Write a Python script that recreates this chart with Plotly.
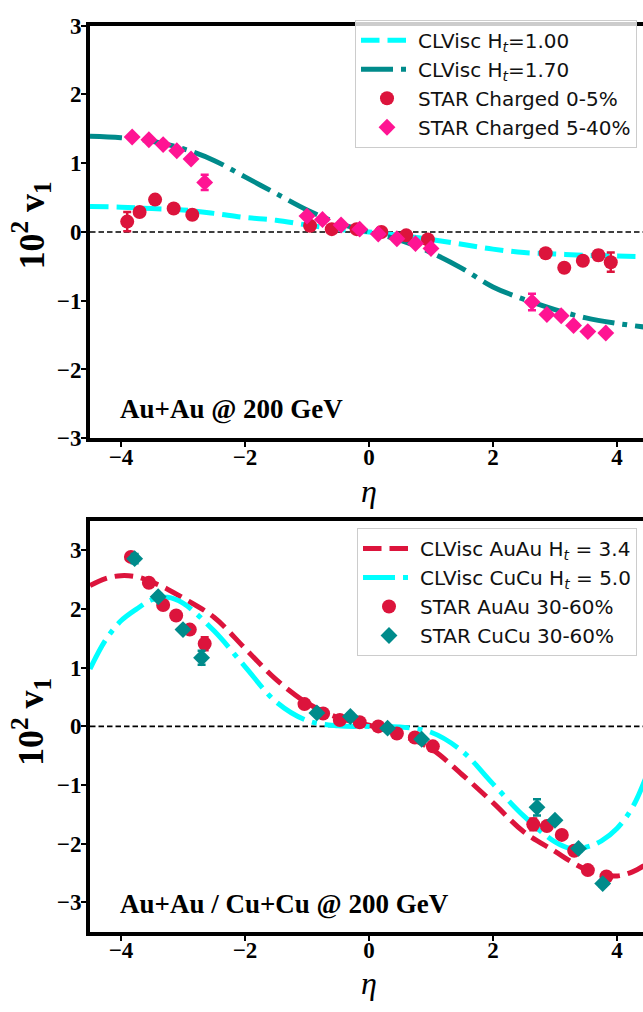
import plotly.graph_objects as go

# ---------------- data ----------------
# Top panel: Au+Au 200 GeV
eta_grid_top = [-4.5, -4.0, -3.5, -3.0, -2.5, -2.0, -1.5, -1.0, -0.5, 0.0,
                0.5, 1.0, 1.5, 2.0, 2.5, 3.0, 3.5, 4.0, 4.5]
v1_clvisc_ht100 = [0.37, 0.36, 0.34, 0.32, 0.27, 0.21, 0.17, 0.10, 0.04, 0.0,
                   -0.05, -0.11, -0.18, -0.25, -0.30, -0.32, -0.34, -0.35, -0.36]
v1_clvisc_ht170 = [1.39, 1.37, 1.32, 1.21, 1.04, 0.80, 0.56, 0.32, 0.13, 0.0,
                   -0.12, -0.30, -0.53, -0.80, -0.98, -1.13, -1.25, -1.33, -1.39]

eta_star_0_5 = [-3.9, -3.7, -3.45, -3.15, -2.85, -0.95, -0.6, -0.2, 0.2, 0.6, 0.95,
                2.85, 3.15, 3.45, 3.7, 3.9]
v1_star_0_5 = [0.15, 0.29, 0.47, 0.34, 0.25, 0.09, 0.04, 0.04, 0.0, -0.05, -0.11,
               -0.31, -0.52, -0.42, -0.34, -0.44]
err_star_0_5 = [0.14, 0.04, 0.04, 0.04, 0.04, 0.02, 0.02, 0.02, 0.02, 0.02, 0.02,
                0.04, 0.04, 0.04, 0.07, 0.14]

eta_star_5_40 = [-3.82, -3.55, -3.32, -3.1, -2.87, -2.65, -1.0, -0.75, -0.45, -0.15,
                 0.15, 0.45, 0.75, 1.0, 2.63, 2.87, 3.1, 3.3, 3.53, 3.82]
v1_star_5_40 = [1.38, 1.34, 1.27, 1.18, 1.06, 0.72, 0.23, 0.18, 0.10, 0.04,
                -0.03, -0.10, -0.17, -0.24, -1.02, -1.20, -1.22, -1.36, -1.45, -1.47]
err_star_5_40 = [0.03, 0.03, 0.03, 0.03, 0.03, 0.11, 0.02, 0.02, 0.02, 0.02,
                 0.02, 0.02, 0.02, 0.02, 0.12, 0.03, 0.03, 0.03, 0.03, 0.03]

# Bottom panel: Au+Au / Cu+Cu 200 GeV
eta_grid_bot = [-4.5, -4.25, -4.0, -3.75, -3.5, -3.25, -3.0, -2.5, -2.0, -1.5, -1.0,
                -0.5, 0.0, 0.5, 1.0, 1.5, 2.0, 2.5, 3.0, 3.25, 3.5, 3.75, 4.0, 4.25, 4.5]
v1_clvisc_auau = [2.40, 2.52, 2.57, 2.55, 2.46, 2.34, 2.19, 1.86, 1.33, 0.80, 0.40,
                  0.15, 0.02, -0.14, -0.38, -0.82, -1.30, -1.80, -2.13, -2.30, -2.44,
                  -2.52, -2.55, -2.48, -2.33]
v1_clvisc_cucu = [0.98, 1.47, 1.80, 2.00, 2.16, 2.20, 2.10, 1.63, 1.02, 0.42, 0.10,
                  0.01, 0.0, -0.01, -0.10, -0.42, -0.98, -1.53, -1.97, -2.08, -2.06,
                  -1.95, -1.74, -1.38, -0.78]

eta_star_auau = [-3.84, -3.55, -3.32, -3.11, -2.89, -2.65, -1.04, -0.74, -0.47, -0.15,
                 0.15, 0.45, 0.74, 1.03, 2.65, 2.87, 3.11, 3.31, 3.53, 3.83]
v1_star_auau = [2.89, 2.45, 2.07, 1.89, 1.65, 1.41, 0.38, 0.22, 0.11, 0.07,
                0.0, -0.12, -0.19, -0.34, -1.67, -1.70, -1.85, -2.12, -2.45, -2.56]
err_star_auau = [0.05, 0.04, 0.04, 0.04, 0.04, 0.11, 0.03, 0.03, 0.03, 0.03,
                 0.03, 0.03, 0.03, 0.03, 0.10, 0.04, 0.04, 0.04, 0.04, 0.05]

eta_star_cucu = [-3.78, -3.4, -3.0, -2.7, -0.84, -0.3, 0.3, 0.85, 2.71, 3.0, 3.38, 3.77]
v1_star_cucu = [2.86, 2.21, 1.65, 1.17, 0.23, 0.17, -0.03, -0.22, -1.38, -1.60, -2.08, -2.68]
err_star_cucu = [0.08, 0.05, 0.05, 0.12, 0.04, 0.04, 0.04, 0.04, 0.14, 0.05, 0.05, 0.05]

x_ticks = [-4, -2, 0, 2, 4]
y_ticks = [-3, -2, -1, 0, 1, 2, 3]

# ---------------- styles ----------------
CYAN = "#00FFFF"
TEAL = "#008B8B"
CRIMSON = "#DC143C"
PINK = "#FF1493"
W, H = 643, 1012
LW = 5
DASHED = "18.5px,8px"
DASHDOT = "32px,8px,5px,8px"
MS_CIRC = 14
MS_DIAM = 13

fig = go.Figure()

# top panel lines
fig.add_trace(go.Scatter(x=eta_grid_top, y=v1_clvisc_ht100, mode="lines", line_shape="spline",
                         line=dict(color=CYAN, width=LW, dash=DASHED),
                         name="CLVisc H<sub><i>t</i></sub>=1.00", legend="legend",
                         xaxis="x", yaxis="y"))
fig.add_trace(go.Scatter(x=eta_grid_top, y=v1_clvisc_ht170, mode="lines", line_shape="spline",
                         line=dict(color=TEAL, width=LW, dash=DASHDOT),
                         name="CLVisc H<sub><i>t</i></sub>=1.70", legend="legend",
                         xaxis="x", yaxis="y"))
fig.add_trace(go.Scatter(x=eta_star_0_5, y=v1_star_0_5, mode="markers",
                         marker=dict(symbol="circle", size=MS_CIRC, color=CRIMSON, line=dict(width=0)),
                         error_y=dict(type="data", array=err_star_0_5, color=CRIMSON,
                                      thickness=2.5, width=4),
                         name="STAR Charged 0-5%", legend="legend", xaxis="x", yaxis="y"))
fig.add_trace(go.Scatter(x=eta_star_5_40, y=v1_star_5_40, mode="markers",
                         marker=dict(symbol="diamond", size=MS_DIAM, color=PINK, line=dict(width=0)),
                         error_y=dict(type="data", array=err_star_5_40, color=PINK,
                                      thickness=2.5, width=4),
                         name="STAR Charged 5-40%", legend="legend", xaxis="x", yaxis="y"))

# bottom panel
fig.add_trace(go.Scatter(x=eta_grid_bot, y=v1_clvisc_auau, mode="lines", line_shape="spline",
                         line=dict(color=CRIMSON, width=LW, dash=DASHED),
                         name="CLVisc AuAu H<sub><i>t</i></sub> = 3.4", legend="legend2",
                         xaxis="x2", yaxis="y2"))
fig.add_trace(go.Scatter(x=eta_grid_bot, y=v1_clvisc_cucu, mode="lines", line_shape="spline",
                         line=dict(color=CYAN, width=LW, dash=DASHDOT),
                         name="CLVisc CuCu H<sub><i>t</i></sub> = 5.0", legend="legend2",
                         xaxis="x2", yaxis="y2"))
fig.add_trace(go.Scatter(x=eta_star_auau, y=v1_star_auau, mode="markers",
                         marker=dict(symbol="circle", size=MS_CIRC, color=CRIMSON, line=dict(width=0)),
                         error_y=dict(type="data", array=err_star_auau, color=CRIMSON,
                                      thickness=2.5, width=4),
                         name="STAR AuAu 30-60%", legend="legend2", xaxis="x2", yaxis="y2"))
fig.add_trace(go.Scatter(x=eta_star_cucu, y=v1_star_cucu, mode="markers",
                         marker=dict(symbol="diamond", size=MS_DIAM, color=TEAL, line=dict(width=0)),
                         error_y=dict(type="data", array=err_star_cucu, color=TEAL,
                                      thickness=2.5, width=4),
                         name="STAR CuCu 30-60%", legend="legend2", xaxis="x2", yaxis="y2"))

tickfont = dict(family="Liberation Serif", size=23, color="black", weight="bold")
xdom = [90 / W, 1.0]
common_x = dict(range=[-4.5, 4.42], tickvals=x_ticks, showline=True, mirror=True,
                linecolor="black", linewidth=4, ticks="outside", ticklen=5, tickwidth=1.5,
                tickcolor="black", showgrid=False, zeroline=False, tickfont=tickfont,
                domain=xdom, ticklabelstandoff=-10)
common_y = dict(tickvals=y_ticks, showline=True, mirror=False, linecolor="black",
                linewidth=4, ticks="outside", ticklen=5, tickwidth=1.5, tickcolor="black",
                showgrid=False, zeroline=False, tickfont=tickfont, ticklabelstandoff=-5)

legend_common = dict(font=dict(family="DejaVu Sans", size=20, color="#111111"),
                     bgcolor="rgba(255,255,255,0.8)", bordercolor="#cccccc", borderwidth=1,
                     xref="paper", yref="paper", xanchor="right", yanchor="top",
                     itemwidth=52)

fig.update_layout(
    width=W, height=H, autosize=False,
    margin=dict(l=0, r=0, t=0, b=0),
    paper_bgcolor="white", plot_bgcolor="white",
    xaxis=dict(common_x, anchor="y"),
    yaxis=dict(common_y, range=[-3, 3], anchor="x",
               domain=[1 - 437 / H, 1 - 14 / H]),
    xaxis2=dict(common_x, anchor="y2"),
    yaxis2=dict(common_y, range=[-3.5, 3.5], anchor="x2",
                domain=[1 - 943 / H, 1 - 522 / H]),
    legend=dict(legend_common, x=637 / W, y=1 - 8 / H),
    legend2=dict(legend_common, x=637 / W, y=1 - 529 / H),
    showlegend=True,
)

# zero reference lines
for xr, yr in (("x domain", "y"), ("x2 domain", "y2")):
    fig.add_shape(type="line", xref=xr, yref=yr, x0=0, x1=1, y0=0, y1=0,
                  line=dict(color="black", width=1.6, dash="5.5px,3px"), layer="below")

serif_bold = dict(family="Liberation Serif", color="black", weight="bold")
ylab = "10<sup>2</sup>\u00a0v<sub>1</sub>"
ann = [
    dict(text="Au+Au @ 200 GeV", x=118 / W, y=1 - 407 / H, xanchor="left", yanchor="middle",
         font=dict(serif_bold, size=27)),
    dict(text="Au+Au / Cu+Cu @ 200 GeV", x=118 / W, y=1 - 915 / H, xanchor="left",
         yanchor="middle", font=dict(serif_bold, size=27)),
    dict(text=ylab, x=31 / W, y=1 - 219 / H, textangle=-90,
         xanchor="center", yanchor="middle", font=dict(serif_bold, size=36)),
    dict(text=ylab, x=31 / W, y=1 - 728 / H, textangle=-90,
         xanchor="center", yanchor="middle", font=dict(serif_bold, size=36)),
    dict(text="<i>η</i>", x=369 / W, y=1 - 491 / H, xanchor="center", yanchor="middle",
         font=dict(family="Liberation Serif", size=32, color="black")),
    dict(text="<i>η</i>", x=369 / W, y=1 - 996 / H, xanchor="center", yanchor="middle",
         font=dict(family="Liberation Serif", size=32, color="black")),
]
for a in ann:
    fig.add_annotation(xref="paper", yref="paper", showarrow=False, **a)

fig.write_html("out.html")
